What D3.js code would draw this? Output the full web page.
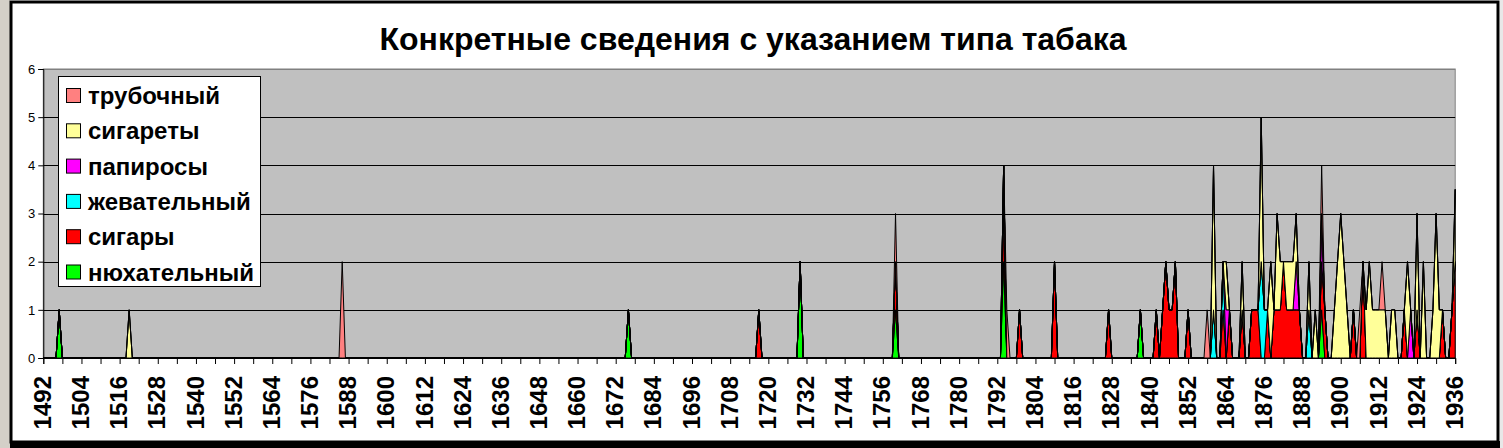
<!DOCTYPE html>
<html>
<head>
<meta charset="utf-8">
<script src="https://cdn.jsdelivr.net/npm/d3@7"></script>
<style>
  body { margin: 0; background: #fff; }
  svg { display: block; font-family: Arial, "Liberation Sans", sans-serif; }
</style>
</head>
<body>
<div id="chart"></div>
<script>
// categories: every year from 1492 to 1936
var firstYear = 1492, lastYear = 1936;
var tickLabels = d3.range(1492, 1937, 12);

// series values as [year, count], all other years are 0
var snuff   = [[1497,1],[1676,1],[1730,2],[1760,1],[1794,2],[1837,1],[1894,1]];                 // нюхательный
var cigars  = [[1717,1],[1760,1],[1794,1],[1799,1],[1810,2],[1827,1],[1842,1],[1844,1],[1845,2],
               [1846,1],[1847,1],[1848,2],[1852,1],[1863,1],[1865,1],[1869,1],[1872,1],[1873,1],
               [1874,1],[1877,1],[1879,1],[1880,1],[1881,1],[1882,2],[1883,1],[1884,1],[1885,1],
               [1886,1],[1887,1],[1894,1],[1895,1],[1904,1],[1907,2],[1920,1],[1924,1],[1932,1],
               [1935,1],[1936,2]];                                                              // сигары
var chewing = [[1794,1],[1860,1],[1863,1],[1875,2],[1876,1],[1890,1]];                          // жевательный
var papiros = [[1864,1],[1886,1],[1894,1],[1922,1]];                                            // папиросы
var cigarettes = [[1519,1],[1860,3],[1864,1],[1869,1],[1875,3],[1878,2],[1880,2],[1881,1],[1883,1],
               [1884,1],[1885,1],[1886,1],[1890,1],[1892,1],[1898,1],[1899,2],[1900,3],[1901,2],
               [1902,1],[1908,1],[1909,2],[1910,1],[1911,1],[1912,1],[1913,1],[1914,1],[1916,1],
               [1917,1],[1921,2],[1924,2],[1926,2],[1929,1],[1930,3],[1931,1],[1936,1.5]];     // сигареты
var pipe    = [[1586,2],[1760,1],[1795,1],[1858,1],[1894,1],[1906,1],[1913,1]];                 // трубочный

// stacking order, bottom to top
var seriesNames = ['нюхательный', 'сигары', 'жевательный', 'папиросы', 'сигареты', 'трубочный'];
var seriesData  = [snuff, cigars, chewing, papiros, cigarettes, pipe];
var colors      = ['#00FF00', '#FF0000', '#00FFFF', '#FF00FF', '#FFFF99', '#FF8080'];

var table = d3.range(firstYear, lastYear + 1).map(function(yr) {
  var row = { year: yr };
  seriesNames.forEach(function(n) { row[n] = 0; });
  return row;
});
seriesData.forEach(function(list, i) {
  list.forEach(function(p) { table[p[0] - firstYear][seriesNames[i]] = p[1]; });
});

var width = 1503, height = 448;
var plotLeft = 43.3, plotRight = 1455.2, plotTop = 69, plotBottom = 358;

var svg = d3.select('#chart').append('svg')
  .attr('width', width).attr('height', height);

// window strip and frame
svg.append('rect').attr('x', 0).attr('y', 0).attr('width', 10).attr('height', height).attr('fill', '#d4d0c8');
svg.append('rect').attr('x', 1500).attr('y', 0).attr('width', 3).attr('height', height).attr('fill', '#e8e8e8');
svg.append('rect').attr('x', 11).attr('y', 2).attr('width', 1487).attr('height', 440)
  .attr('fill', '#fff').attr('stroke', '#000').attr('stroke-width', 3);
svg.append('rect').attr('x', 10).attr('y', 441).attr('width', 1490).attr('height', 7).attr('fill', '#000');

var x = d3.scaleLinear().domain([firstYear, lastYear]).range([plotLeft, plotRight]);
var y = d3.scaleLinear().domain([0, 6]).range([plotBottom, plotTop]);

// plot area
svg.append('rect').attr('x', plotLeft).attr('y', plotTop)
  .attr('width', plotRight - plotLeft).attr('height', plotBottom - plotTop)
  .attr('fill', '#C0C0C0').attr('stroke', '#808080');

svg.append('g').selectAll('line').data(d3.range(1, 7)).enter().append('line')
  .attr('x1', plotLeft).attr('x2', plotRight)
  .attr('y1', function(d) { return Math.round(y(d)) + 0.5; })
  .attr('y2', function(d) { return Math.round(y(d)) + 0.5; })
  .attr('stroke', function(d) { return d === 6 ? '#808080' : '#000'; });

var stack = d3.stack().keys(seriesNames);
var area = d3.area()
  .x(function(d) { return x(d.data.year); })
  .y0(function(d) { return y(d[0]); })
  .y1(function(d) { return y(d[1]); });

svg.append('g').selectAll('path').data(stack(table)).enter().append('path')
  .attr('d', area)
  .attr('fill', function(d, i) { return colors[i]; })
  .attr('stroke', '#000')
  .attr('stroke-width', 1)
  .attr('stroke-linejoin', 'miter');

// axes
var yAxis = d3.axisLeft(y).ticks(6).tickSize(5).tickPadding(3);
svg.append('g').attr('transform', 'translate(' + plotLeft + ',0)').call(yAxis)
  .call(function(g) {
    g.select('.domain').attr('stroke', '#000');
    g.selectAll('text').attr('font-size', 13).attr('fill', '#000');
  });

var xAxis = d3.axisBottom(x).tickValues(d3.range(1492, 1937, 6)).tickSize(6).tickFormat('');
svg.append('g').attr('transform', 'translate(0,' + plotBottom + ')').call(xAxis)
  .call(function(g) { g.select('.domain').attr('stroke', '#000'); });

svg.append('g').selectAll('text').data(tickLabels).enter().append('text')
  .attr('transform', function(d) { return 'translate(' + (x(d) - 1) + ',376) rotate(-90)'; })
  .attr('text-anchor', 'end')
  .attr('dy', '0.36em')
  .attr('font-size', 24)
  .attr('font-weight', 'bold')
  .text(function(d) { return d; });

// title
svg.append('text')
  .attr('x', 753).attr('y', 50)
  .attr('text-anchor', 'middle')
  .attr('font-size', 32)
  .attr('font-weight', 'bold')
  .text('Конкретные сведения с указанием типа табака');

// legend, top series first
var legendNames = seriesNames.slice().reverse();
var legendColors = colors.slice().reverse();
svg.append('rect').attr('x', 58.5).attr('y', 76.5).attr('width', 202).attr('height', 210)
  .attr('fill', '#fff').attr('stroke', '#000');
var legend = svg.selectAll('.legend').data(legendNames).enter().append('g')
  .attr('class', 'legend')
  .attr('transform', function(d, i) { return 'translate(66,' + (88 + i * 35.3) + ')'; });
legend.append('rect')
  .attr('x', 0.5).attr('y', 0.5).attr('width', 14).attr('height', 14)
  .attr('fill', function(d, i) { return legendColors[i]; })
  .attr('stroke', '#000');
legend.append('text')
  .attr('x', 22).attr('y', 16)
  .attr('font-size', 24)
  .attr('font-weight', 'bold')
  .text(function(d) { return d; });
</script>
</body>
</html>
